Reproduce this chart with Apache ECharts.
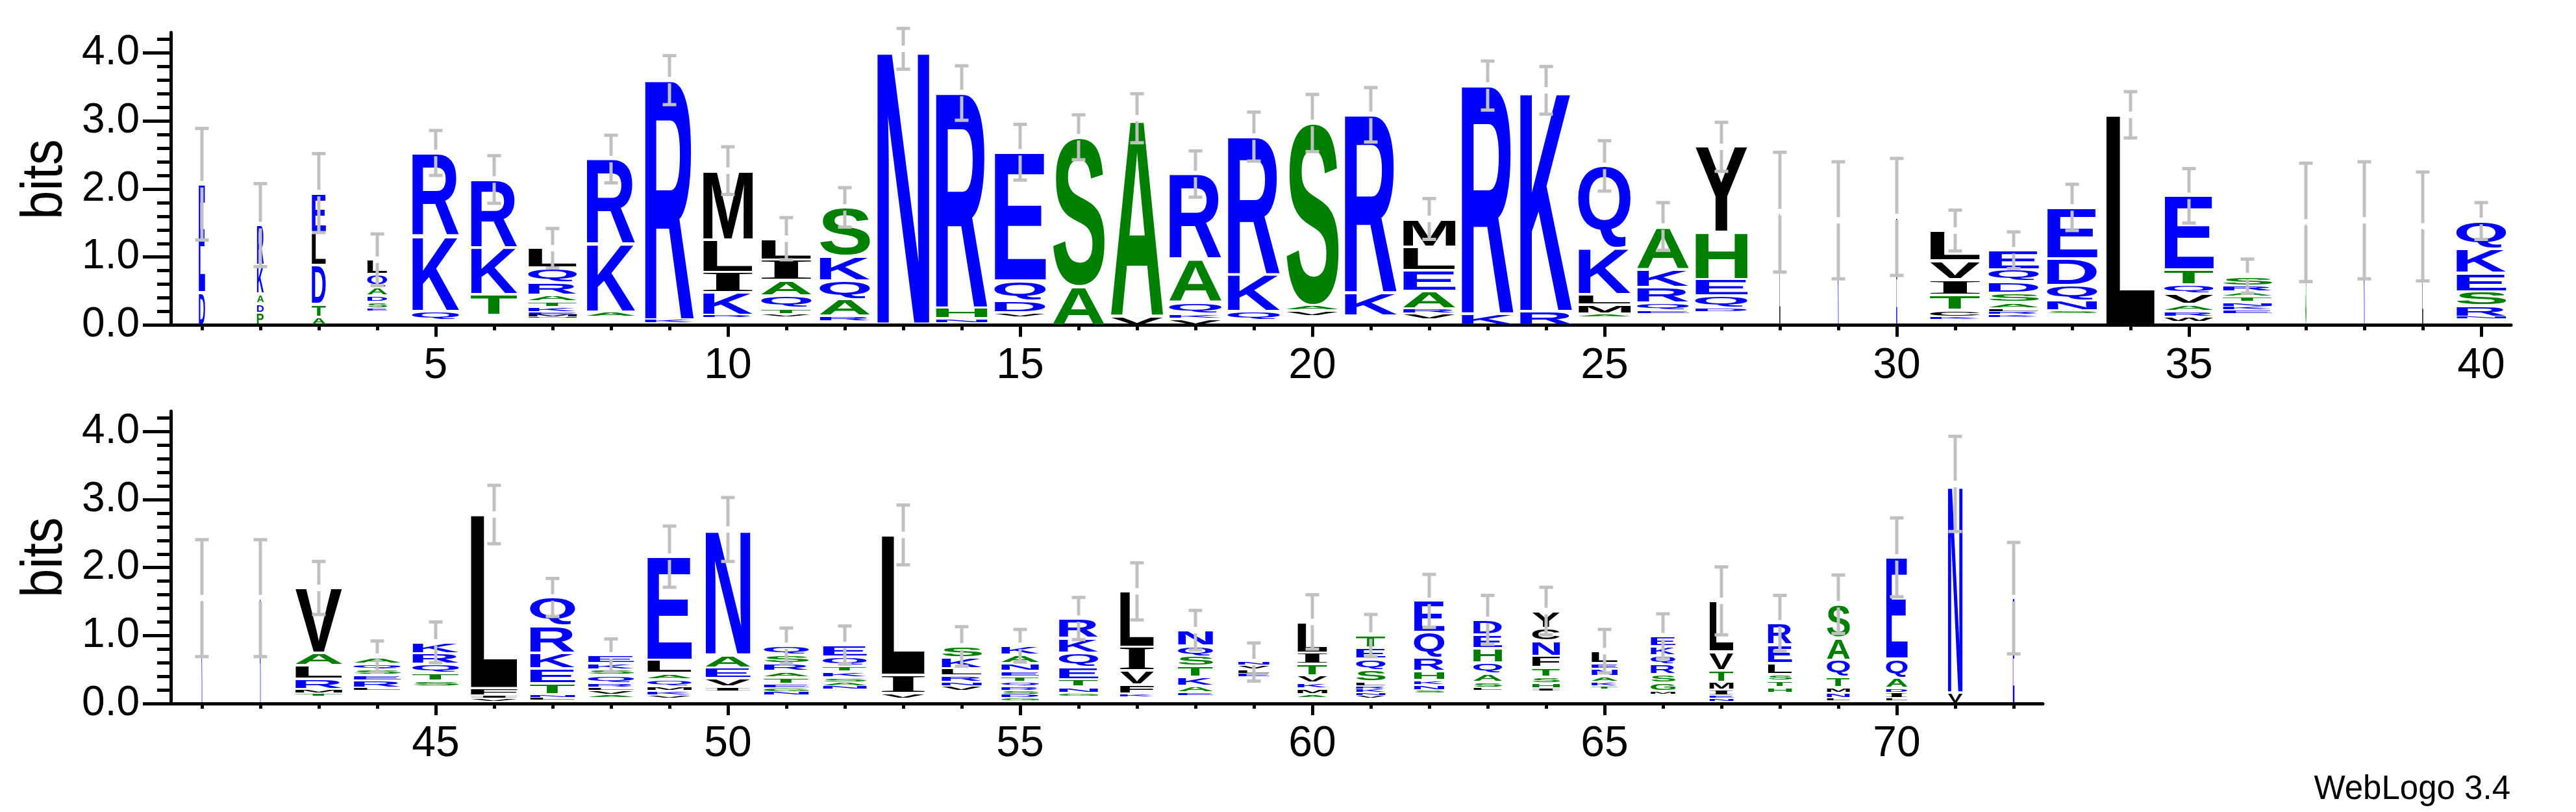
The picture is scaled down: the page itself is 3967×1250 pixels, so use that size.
<!DOCTYPE html>
<html><head><meta charset="utf-8">
<script src="https://cdn.jsdelivr.net/npm/echarts@6/dist/echarts.min.js"></script>
<style>html,body{margin:0;padding:0;background:#fff;}#c{width:3967px;height:1250px;}</style>
</head><body><div id="c"></div>
<script>
// ---------- DATA (letters listed top-to-bottom; '.' = residues too small to draw) ----------
const topStart = 1;
const topLetters = ['ED','RKADP','ELDTA','LQADSE.','RKQ.','RKT.','LQRATKEMN.','RKA.','RK.','MLIKR.',
 'LIAQTV.','SKQAR.','N.','RHN.','EQDV.','SA','AV','RAQKV','RKQ.','SAV.',
 'RK.','MLEARV.','RK','KR','QKLMA.','AKRQE.','YHEQD.','L','K','E',
 'LVITCK.','EQDSALRK.','EDQNS.','L','ETQVARW.','SRATNKE.','S','K','L','QKESRN.'];
const topHeights = [[1.59,.48],[.59,.42,.14,.14,.18],[.58,.475,.575,.19,.12],[.215,.19,.12,.095,.10,.03,.21],
 [1.215,1.11,.135,.07],[.995,.69,.305,.15],[.29,.215,.18,.10,.08,.08,.03,.03,.025,.10],[1.245,1.0,.075,.12],
 [3.52,.05,.03],[1.015,.475,.30,.33,.04,.11],[.31,.30,.225,.185,.09,.04,.12],[.715,.36,.27,.245,.08,.06],
 [4.04,.02],[3.155,.155,.07,.03],[1.885,.295,.175,.065,.12],[2.19,.57],[2.905,.135],[1.245,.635,.17,.07,.10],
 [2.025,.54,.135,.07],[2.68,.075,.085,.13],[2.61,.34,.14],[.41,.34,.31,.255,.075,.09,.08],[3.35,.17],[3.245,.205],
 [1.21,.68,.145,.14,.045,.12],[.625,.265,.23,.115,.045,.17],[1.255,.69,.245,.185,.055,.19],[1.66],[1.54],[1.59],
 [.445,.275,.225,.225,.10,.04,.08],[.285,.175,.165,.14,.09,.045,.045,.045,.11],[.75,.395,.225,.15,.04,.17],[3.09],
 [1.085,.22,.14,.145,.105,.08,.075,.05],[.14,.09,.065,.085,.07,.05,.05,.17],[1.51],[1.54],[1.45],
 [.405,.355,.275,.21,.165,.03,.09]];
const topWidths = [.12,.13,.27,.38,.90,.89,.93,.93,.94,.95,.96,.96,1,.99,.98,.99,1,1,1,1,
 1,1,1,1,1,.99,1,.015,.015,.015,.96,.96,.96,.94,.94,.94,.015,.015,.015,.95];
const topErrors = [.82,.61,.58,.38,.33,.35,.29,.35,.36,.35,.31,.29,.30,.40,.41,.33,.36,.34,.36,.42,
 .40,.30,.36,.35,.37,.35,.36,.88,.86,.86,.30,.27,.34,.34,.40,.25,.87,.86,.80,.27];

const bottomStart = 41;
const bottomLetters = ['K','R','VALRMT.','AQSERL.','KRQTS.','LFIV.','QRKETNL.','EKSQRLVA.','ELAQMKV.','NAEVI.',
 'QSRATEGN.','EQTKSAN.','LIV.','SKLRNV.','KANETQRSDG.','RKQETNG.','LIVFK.','NQSTKAE.','NVLE.','LITVKMA.',
 'TEQSLRKNV.','EQRHKNS.','DEHQASL.','YCNFTSHI.','LENAKT.','EKQRSGM.','LVTMIEN.','RELSTH.','SAQTMNL.','EQADIL.',
 'NV','E'];
const bottomHeights = [[1.55],[1.55],[.95,.19,.195,.15,.065,.04,.11],[.105,.09,.075,.085,.105,.04,.19],
 [.16,.155,.14,.11,.085,.25],[2.555,.115,.035,.045,.03],[.415,.395,.235,.215,.165,.045,.04,.05],
 [.12,.095,.075,.12,.065,.045,.06,.04,.09],[1.52,.195,.09,.105,.06,.07,.04,.08],[1.84,.19,.16,.12,.07,.18],
 [.14,.12,.115,.09,.10,.055,.06,.05,.12],[.17,.135,.09,.085,.07,.05,.05,.21],[2.06,.27,.08,.07],
 [.165,.155,.105,.095,.06,.08,.18],[.135,.125,.115,.08,.08,.06,.065,.055,.05,.045,.04],
 [.285,.215,.215,.18,.11,.09,.045,.11],[.815,.355,.205,.13,.045,.10],[.23,.155,.145,.16,.13,.10,.04,.12],
 [.05,.06,.06,.05,.39],[.45,.165,.17,.105,.085,.09,.045,.09],[.18,.16,.17,.17,.065,.04,.05,.045,.04,.08],
 [.46,.38,.19,.14,.07,.075,.045,.15],[.215,.20,.215,.16,.12,.085,.045,.19],[.25,.19,.22,.17,.135,.095,.075,.045,.18],
 [.18,.08,.11,.08,.07,.04,.21],[.145,.14,.13,.145,.125,.125,.04,.14],[.75,.27,.17,.12,.085,.04,.045,.03],
 [.315,.27,.165,.095,.10,.075,.16],[.49,.325,.255,.15,.085,.075,.04,.04],[1.495,.28,.15,.065,.085,.035,.04],
 [3.07,.16],[1.55]];
const bottomWidths = [.015,.015,.90,.90,.89,.90,.86,.88,.85,.86,.86,.84,.83,.77,.72,.75,.65,.67,.60,.57,
 .56,.58,.55,.53,.50,.47,.46,.46,.44,.41,.28,.03];
const bottomErrors = [.86,.86,.39,.23,.30,.43,.28,.24,.45,.47,.26,.28,.44,.29,.24,.31,.42,.29,.28,.40,
 .31,.39,.36,.35,.32,.33,.50,.41,.43,.58,.70,.82];

const topTickLabels = [5,10,15,20,25,30,35,40];
const bottomTickLabels = [45,50,55,60,65,70];
const yTickLabels = [0,1,2,3,4];

// ---------- helpers ----------
const BLUE = '#0000ff', GREEN = '#008000', BLACK = '#000000';
function letterColor(c){
  if ('RKDENQ'.indexOf(c) >= 0) return BLUE;
  if ('SGHTAP'.indexOf(c) >= 0) return GREEN;
  return BLACK;
}
function letterFont(c){
  return c === 'I' ? 'bold 100px "Liberation Serif", serif' : 'bold 100px "Liberation Sans", Arial, sans-serif';
}
const mctx = document.createElement('canvas').getContext('2d');
const mcache = {};
function metrics(c){
  if (mcache[c]) return mcache[c];
  mctx.font = letterFont(c);
  mctx.textBaseline = 'middle';
  mctx.textAlign = 'left';
  const m = mctx.measureText(c);
  const r = {left: m.actualBoundingBoxLeft, right: m.actualBoundingBoxRight,
             asc: m.actualBoundingBoxAscent, desc: m.actualBoundingBoxDescent};
  r.w = r.left + r.right; r.h = r.asc + r.desc;
  mcache[c] = r; return r;
}
function buildGlyphs(start, letters, heights, widths){
  const out = [];
  letters.forEach((str, i) => {
    let y = 0;
    for (let k = str.length - 1; k >= 0; k--) {
      const h = heights[i][k];
      if (str[k] !== '.') out.push({pos: start + i, y0: y, y1: y + h, w: widths[i], letter: str[k]});
      y += h;
    }
  });
  return out;
}
function stackTops(heights){ return heights.map(a => a.reduce((s, v) => s + v, 0)); }

function makeGlyphRenderer(glyphs){
  return function(params, api){
    const g = glyphs[params.dataIndex];
    const unit = api.size([1, 0])[0];
    const pb = api.coord([g.pos, g.y0]);
    const pt = api.coord([g.pos, g.y1]);
    let yTop = pt[1], yBot = pb[1];
    const h = yBot - yTop;
    const inset = Math.min(2, h * 0.2);
    yTop += inset; yBot -= inset;
    if (yBot - yTop < 0.4) return null;
    const w = Math.max(1.5, 0.9 * unit * g.w);
    const x0 = pb[0] - w / 2;
    const m = metrics(g.letter);
    const sx = w / m.w, sy = (yBot - yTop) / m.h;
    return {
      type: 'text', silent: true,
      x: x0 + m.left * sx, y: yTop + m.asc * sy, scaleX: sx, scaleY: sy,
      style: {text: g.letter, font: letterFont(g.letter), fill: letterColor(g.letter),
              align: 'left', verticalAlign: 'middle'}
    };
  };
}
function renderError(params, api){
  const x = api.value(0), t = api.value(1), e = api.value(2);
  const pc = api.coord([x, t]), pt = api.coord([x, t + e]), pb = api.coord([x, t - e]);
  const cx = pc[0], gap = 5, cap = 10.5;
  const st = {stroke: '#c0c0c0', lineWidth: 5};
  return {type: 'group', silent: true, children: [
    {type: 'line', shape: {x1: cx, y1: pt[1], x2: cx, y2: pc[1] - gap}, style: st},
    {type: 'line', shape: {x1: cx, y1: pc[1] + gap, x2: cx, y2: pb[1]}, style: st},
    {type: 'line', shape: {x1: cx - cap, y1: pt[1], x2: cx + cap, y2: pt[1]}, style: st},
    {type: 'line', shape: {x1: cx - cap, y1: pb[1], x2: cx + cap, y2: pb[1]}, style: st}
  ]};
}

const topGlyphs = buildGlyphs(topStart, topLetters, topHeights, topWidths);
const bottomGlyphs = buildGlyphs(bottomStart, bottomLetters, bottomHeights, bottomWidths);
const topTops = stackTops(topHeights), bottomTops = stackTops(bottomHeights);

function range(a, b, s){ const r = []; for (let v = a; v <= b + 1e-9; v += s) r.push(Math.round(v * 100) / 100); return r; }

const FONT = '"Liberation Sans", Arial, sans-serif';
function xAxes(gridIndex, min, max, first, last, labels){
  return [
    {type: 'value', gridIndex, min, max, position: 'bottom', offset: 0, splitLine: {show: false},
     axisLine: {show: true, lineStyle: {color: '#000', width: 5}},
     axisTick: {show: true, customValues: range(first, last, 1), length: 8, lineStyle: {color: '#000', width: 5}},
     axisLabel: {show: true, customValues: labels, fontSize: 66, fontFamily: FONT, color: '#000', margin: 30}},
    {type: 'value', gridIndex, min, max, position: 'bottom', offset: 0, splitLine: {show: false},
     axisLine: {show: false},
     axisTick: {show: true, customValues: labels, length: 18, lineStyle: {color: '#000', width: 5}},
     axisLabel: {show: false}}
  ];
}
function yAxes(gridIndex){
  return [
    {type: 'value', gridIndex, min: 0, max: 4.3, position: 'left', offset: 0, splitLine: {show: false},
     axisLine: {show: true, lineStyle: {color: '#000', width: 5}},
     axisTick: {show: true, customValues: yTickLabels, length: 43, lineStyle: {color: '#000', width: 5}},
     axisLabel: {show: true, customValues: yTickLabels, formatter: v => Number(v).toFixed(1),
                 fontSize: 64, fontFamily: FONT, color: '#000', margin: 48}},
    {type: 'value', gridIndex, min: 0, max: 4.3, position: 'left', offset: 0, splitLine: {show: false},
     axisLine: {show: false},
     axisTick: {show: true, customValues: range(0, 4.2, 0.2), length: 21, lineStyle: {color: '#000', width: 5}},
     axisLabel: {show: false}}
  ];
}

const option = {
  backgroundColor: '#fff',
  animation: false,
  grid: [
    {left: 263, top: 50, width: 3604, height: 450.5},
    {left: 263, top: 633, width: 2883, height: 450}
  ],
  xAxis: [].concat(xAxes(0, 0.467, 40.511, 1, 40, topTickLabels), xAxes(1, 40.467, 72.5, 41, 72, bottomTickLabels)),
  yAxis: [].concat(yAxes(0), yAxes(1)),
  graphic: [
    {type: 'text', x: 70, y: 276, rotation: Math.PI / 2, scaleX: 0.89,
     style: {text: 'bits', font: '89px ' + FONT, fill: '#000', align: 'center', verticalAlign: 'middle'}},
    {type: 'text', x: 70, y: 858, rotation: Math.PI / 2, scaleX: 0.89,
     style: {text: 'bits', font: '89px ' + FONT, fill: '#000', align: 'center', verticalAlign: 'middle'}},
    {type: 'text', x: 3866, y: 1216,
     style: {text: 'WebLogo 3.4', font: '51px ' + FONT, fill: '#000', align: 'right', verticalAlign: 'middle'}}
  ],
  series: [
    {type: 'custom', xAxisIndex: 0, yAxisIndex: 0, clip: false,
     data: topGlyphs.map(g => [g.pos, g.y0, g.y1]), encode: {x: 0, y: [1, 2]},
     renderItem: makeGlyphRenderer(topGlyphs)},
    {type: 'custom', xAxisIndex: 0, yAxisIndex: 0, clip: false, z: 5,
     data: topTops.map((t, i) => [topStart + i, t, topErrors[i]]), encode: {x: 0, y: 1},
     renderItem: renderError},
    {type: 'custom', xAxisIndex: 2, yAxisIndex: 2, clip: false,
     data: bottomGlyphs.map(g => [g.pos, g.y0, g.y1]), encode: {x: 0, y: [1, 2]},
     renderItem: makeGlyphRenderer(bottomGlyphs)},
    {type: 'custom', xAxisIndex: 2, yAxisIndex: 2, clip: false, z: 5,
     data: bottomTops.map((t, i) => [bottomStart + i, t, bottomErrors[i]]), encode: {x: 0, y: 1},
     renderItem: renderError}
  ]
};
const chart = echarts.init(document.getElementById('c'), null, {renderer: 'canvas', width: 3967, height: 1250});
chart.setOption(option);
</script>
</body></html>
